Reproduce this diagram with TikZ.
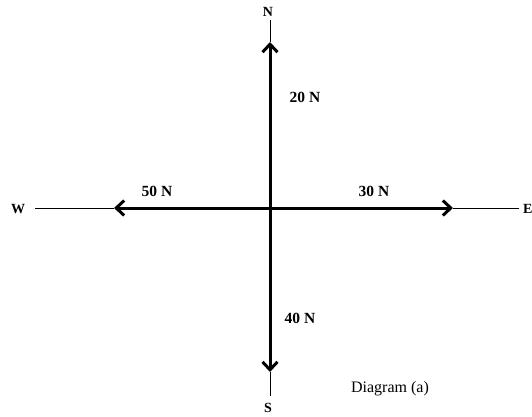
\documentclass[tikz,border=0pt]{standalone}
\usepackage{fontspec}
\setmainfont{Liberation Serif}
\usetikzlibrary{arrows.meta}
\begin{document}
\begin{tikzpicture}[x=1pt,y=-1pt,
  thinline/.style={line width=0.9pt},
  force/.style={line width=3pt,-{Straight Barb[length=8pt,width=15pt,line width=3pt]}},
  lbl/.style={font=\fontsize{15.5}{17}\selectfont\bfseries,inner sep=0pt},
  dir/.style={font=\fontsize{14}{16}\selectfont\bfseries,inner sep=0pt}]
\useasboundingbox (0,0) rectangle (532,416);
\clip (0,0) rectangle (532,416);
\coordinate (O) at (270,208);
\node[dir] (N) at (268,12) {N};
\node[dir] (S) at (268,408) {S};
\node[dir] (W) at (18,209) {W};
\node[dir,anchor=west] (E) at (523,209) {E};
\coordinate (tN) at (270,42);
\coordinate (tS) at (270,372);
\coordinate (tW) at (114,208);
\coordinate (tE) at (453,208);
\coordinate (eN) at (270,20);
\coordinate (eS) at (270,396);
\coordinate (eW) at (35,208);
\coordinate (eE) at (519,208);
\draw[thinline] (eN) -- (tN);
\draw[thinline] (eS) -- (tS);
\draw[thinline] (eW) -- (tW);
\draw[thinline] (eE) -- (tE);
\draw[force] (O) -- (tN);
\draw[force] (O) -- (tS);
\draw[force] (O) -- (tW);
\draw[force] (O) -- (tE);
\node[lbl] (f20) at (305,97) {20 N};
\node[lbl] (f50) at (157,191) {50 N};
\node[lbl] (f30) at (374,191) {30 N};
\node[lbl] (f40) at (300,318) {40 N};
\node[font=\fontsize{16}{18}\selectfont,inner sep=0pt] (cap) at (390,389) {Diagram (a)};
\end{tikzpicture}
\end{document}
